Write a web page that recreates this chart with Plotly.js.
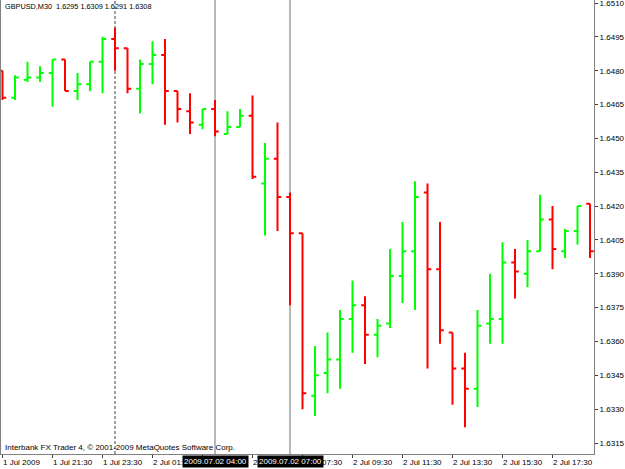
<!DOCTYPE html>
<html>
<head>
<meta charset="utf-8">
<script src="https://cdn.plot.ly/plotly-3.0.1.min.js"></script>
<style>
  html, body { margin: 0; padding: 0; background: #ffffff; }
  #chart { width: 625px; height: 469px; }
</style>
</head>
<body>
<div id="chart"></div>
<script>
// ---- data (GBPUSD, M30) ----
const times = [
  "2009.07.01 19:30","2009.07.01 20:00","2009.07.01 20:30","2009.07.01 21:00","2009.07.01 21:30","2009.07.01 22:00",
  "2009.07.01 22:30","2009.07.01 23:00","2009.07.01 23:30","2009.07.02 00:00","2009.07.02 00:30","2009.07.02 01:00",
  "2009.07.02 01:30","2009.07.02 02:00","2009.07.02 02:30","2009.07.02 03:00","2009.07.02 03:30","2009.07.02 04:00",
  "2009.07.02 04:30","2009.07.02 05:00","2009.07.02 05:30","2009.07.02 06:00","2009.07.02 06:30","2009.07.02 07:00",
  "2009.07.02 07:30","2009.07.02 08:00","2009.07.02 08:30","2009.07.02 09:00","2009.07.02 09:30","2009.07.02 10:00",
  "2009.07.02 10:30","2009.07.02 11:00","2009.07.02 11:30","2009.07.02 12:00","2009.07.02 12:30","2009.07.02 13:00",
  "2009.07.02 13:30","2009.07.02 14:00","2009.07.02 14:30","2009.07.02 15:00","2009.07.02 15:30","2009.07.02 16:00",
  "2009.07.02 16:30","2009.07.02 17:00","2009.07.02 17:30","2009.07.02 18:00","2009.07.02 18:30","2009.07.02 19:00"
];
const openP = [
  1.6480,1.6468,1.6476,1.6477,1.6479,1.6485,1.6471,1.6474,1.6484,1.6494,1.6490,1.6472,
  1.6483,1.6487,1.6471,1.6462,1.6456,1.6463,1.6452,1.6455,1.6460,1.6430,1.6441,1.6424,
  1.6408,1.6336,1.6346,1.6352,1.6370,1.6376,1.6363,1.6368,1.6389,1.6400,1.6426,1.6392,
  1.6364,1.6348,1.6339,1.6368,1.6370,1.6395,1.6390,1.6400,1.6414,1.6400,1.6409,1.6421
];
const highP = [
  1.6480,1.6478,1.6484,1.6482,1.6485,1.6485,1.6479,1.6484,1.6495,1.6499,1.6490,1.6485,
  1.6493,1.6494,1.6471,1.6470,1.6463,1.6467,1.6462,1.6463,1.6469,1.6448,1.6457,1.6426,
  1.6408,1.6358,1.6364,1.6374,1.6387,1.6380,1.6370,1.6401,1.6413,1.6431,1.6430,1.6413,
  1.6364,1.6355,1.6374,1.6390,1.6404,1.6401,1.6405,1.6425,1.6420,1.6410,1.6420,1.6421
];
const lowP = [
  1.6467,1.6467,1.6475,1.6475,1.6464,1.6471,1.6467,1.6471,1.6470,1.6480,1.6470,1.6461,
  1.6474,1.6456,1.6457,1.6452,1.6454,1.6451,1.6452,1.6455,1.6432,1.6407,1.6409,1.6376,
  1.6330,1.6327,1.6337,1.6339,1.6355,1.6350,1.6353,1.6366,1.6377,1.6374,1.6348,1.6359,
  1.6332,1.6322,1.6331,1.6359,1.6359,1.6379,1.6384,1.6400,1.6392,1.6397,1.6403,1.6397
];
const closeP = [
  1.6468,1.6477,1.6477,1.6479,1.6485,1.6471,1.6474,1.6484,1.6494,1.6490,1.6472,1.6483,
  1.6487,1.6471,1.6463,1.6457,1.6463,1.6453,1.6455,1.6460,1.6433,1.6441,1.6424,1.6408,
  1.6337,1.6345,1.6352,1.6370,1.6376,1.6363,1.6367,1.6389,1.6400,1.6424,1.6392,1.6365,
  1.6348,1.6339,1.6367,1.6370,1.6395,1.6391,1.6400,1.6414,1.6401,1.6409,1.6420,1.6400
];
const tickTimes = [
  "2009.07.01 19:30","2009.07.01 21:30","2009.07.01 23:30","2009.07.02 01:30","2009.07.02 03:30","2009.07.02 05:30",
  "2009.07.02 07:30","2009.07.02 09:30","2009.07.02 11:30","2009.07.02 13:30","2009.07.02 15:30","2009.07.02 17:30"
];
const tickLabels = [
  "1 Jul 2009","1 Jul 21:30","1 Jul 23:30","2 Jul 01:30","2 Jul 03:30","2 Jul 05:30",
  "2 Jul 07:30","2 Jul 09:30","2 Jul 11:30","2 Jul 13:30","2 Jul 15:30","2 Jul 17:30"
];
const separatorTimes = ["2009.07.02 00:00"];
const vlineTimes = ["2009.07.02 04:00","2009.07.02 07:00"];
const headerText = "GBPUSD,M30  1.6295 1.6309 1.6291 1.6308";
const footerText = "Interbank FX Trader 4, \u00A9 2001-2009 MetaQuotes Software Corp.";

// ---- build ----
const xIdx = times.map((t, i) => i);
const pos = t => times.indexOf(t);
const FONT = "Liberation Sans, Arial, sans-serif";

const trace = {
  type: "ohlc",
  x: xIdx,
  open: openP, high: highP, low: lowP, close: closeP,
  increasing: { line: { color: "#00FF00", width: 2 } },
  decreasing: { line: { color: "#FF0000", width: 2 } },
  tickwidth: 0.3,
  hoverinfo: "skip"
};

const shapes = [];
separatorTimes.forEach(t => shapes.push({
  type: "line", xref: "x", yref: "paper", x0: pos(t), x1: pos(t), y0: 0, y1: 1,
  line: { color: "#404040", width: 1, dash: "3px,2px" }, layer: "below"
}));
vlineTimes.forEach(t => shapes.push({
  type: "line", xref: "x", yref: "paper", x0: pos(t), x1: pos(t), y0: 0, y1: 1,
  line: { color: "#707070", width: 1 }, layer: "below"
}));

const annotations = [];
tickTimes.forEach((t, k) => annotations.push({
  xref: "x", yref: "paper", x: pos(t), y: 0, xanchor: "left", yanchor: "top",
  xshift: -2, yshift: -2, showarrow: false, text: tickLabels[k],
  font: { family: FONT, size: 8, color: "#000000" }
}));
vlineTimes.forEach(t => annotations.push({
  xref: "x", yref: "paper", x: pos(t), y: 0, xanchor: "center", yanchor: "top",
  yshift: -1, showarrow: false, text: t, bgcolor: "#000000", borderpad: 1,
  font: { family: FONT, size: 8, color: "#FFFFFF" }
}));
annotations.push({
  xref: "paper", yref: "paper", x: 0, y: 1, xanchor: "left", yanchor: "top",
  xshift: 2, yshift: 0, showarrow: false, text: headerText,
  font: { family: FONT, size: 7.3, color: "#000000" }
});
annotations.push({
  xref: "paper", yref: "paper", x: 0, y: 0, xanchor: "left", yanchor: "bottom",
  xshift: 2, yshift: 0, showarrow: false, text: footerText,
  font: { family: FONT, size: 8, color: "#000000" }
});

const layout = {
  width: 625, height: 469,
  margin: { l: 1, r: 31, t: 0, b: 15, pad: 0 },
  paper_bgcolor: "#FFFFFF", plot_bgcolor: "#FFFFFF",
  showlegend: false,
  xaxis: {
    type: "linear", range: [-0.12, 47.32], rangeslider: { visible: false },
    showgrid: false, zeroline: false, showline: true, linecolor: "#808080", linewidth: 1,
    ticks: "outside", ticklen: 3, tickcolor: "#404040",
    tickvals: tickTimes.map(pos), ticktext: tickLabels, showticklabels: false,
    fixedrange: true
  },
  yaxis: {
    side: "right", range: [1.631013, 1.651133],
    showgrid: false, zeroline: false, showline: true, mirror: true, linecolor: "#808080", linewidth: 1,
    ticks: "outside", ticklen: 3, tickcolor: "#404040",
    tick0: 1.6315, dtick: 0.0015, tickformat: ".4f", ticklabeloverflow: "allow",
    tickfont: { family: FONT, size: 8, color: "#000000" },
    fixedrange: true
  },
  shapes: shapes,
  annotations: annotations
};

Plotly.newPlot("chart", [trace], layout, { staticPlot: true, displayModeBar: false });
</script>
</body>
</html>
